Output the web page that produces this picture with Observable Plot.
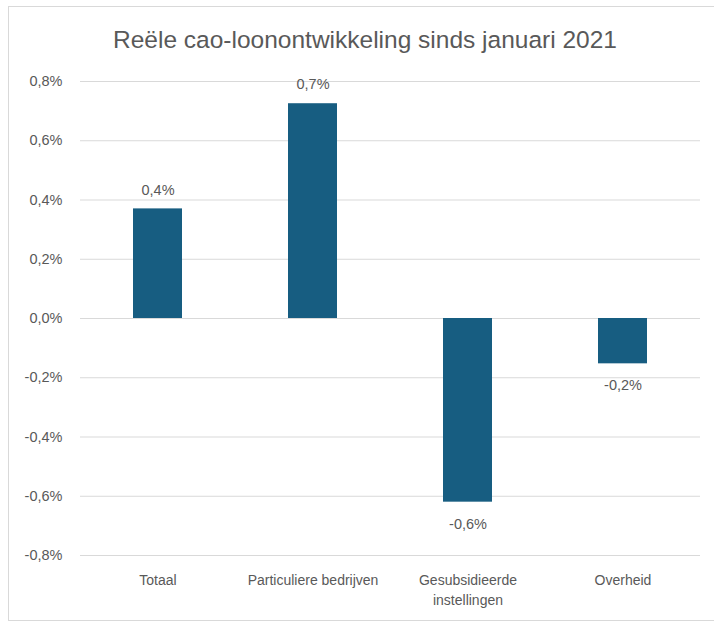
<!DOCTYPE html>
<html>
<head>
<meta charset="utf-8">
<script src="https://cdn.jsdelivr.net/npm/d3@7"></script>
<script src="https://cdn.jsdelivr.net/npm/@observablehq/plot@0.6"></script>
<style>
  html, body { margin: 0; padding: 0; background: #fff; }
  body { width: 714px; height: 622px; position: relative; overflow: hidden; font-family: "Liberation Sans", Arial, sans-serif; }
  #frame { position: absolute; left: 8px; top: 6px; width: 706px; height: 615px; border: 1px solid #d9d9d9; border-right: none; box-sizing: border-box; }
  #title { position: absolute; left: 0; width: 730px; top: 26px; text-align: center; font-size: 24.5px; color: #595959; white-space: nowrap; }
  #chart { position: absolute; left: 0; top: 60px; }
</style>
</head>
<body>
<div id="frame"></div>
<div id="title">Reële cao-loonontwikkeling sinds januari 2021</div>
<div id="chart"></div>
<script>
const categories = ["Totaal", "Particuliere bedrijven", "Gesubsidieerde instellingen", "Overheid"];
const categoryLabels = ["Totaal", "Particuliere bedrijven", "Gesubsidieerde\ninstellingen", "Overheid"];
const values = [0.37, 0.725, -0.62, -0.153];
const yTicks = [-0.8, -0.6, -0.4, -0.2, 0, 0.2, 0.4, 0.6, 0.8];

const data = categories.map((c, i) => ({category: c, value: values[i]}));
const fmt = v => v.toFixed(1).replace(".", ",") + "%";
const labelOf = Object.fromEntries(categories.map((c, i) => [c, categoryLabels[i]]));

const plot = Plot.plot({
  width: 714,
  height: 562,
  marginTop: 21,
  marginBottom: 67,
  marginLeft: 80,
  marginRight: 14,
  style: {fontFamily: "'Liberation Sans', Arial, sans-serif", background: "transparent"},
  x: {domain: categories, padding: 0},
  y: {domain: [-0.8, 0.8]},
  marks: [
    Plot.ruleY(yTicks, {stroke: "#d9d9d9", strokeWidth: 1.2}),
    Plot.barY(data, {x: "category", y: "value", fill: "#175d81", insetLeft: 53, insetRight: 53}),
    Plot.text(data.filter(d => d.value >= 0), {
      x: "category", y: "value", text: d => fmt(d.value),
      dy: -19, fill: "#595959", fontSize: 14.5
    }),
    Plot.text(data.filter(d => d.value < 0), {
      x: "category", y: "value", text: d => fmt(d.value),
      dy: 22, fill: "#595959", fontSize: 14.5
    }),
    Plot.axisY({ticks: yTicks, tickSize: 0, tickPadding: 18, tickFormat: d => d.toFixed(1).replace(".", ",") + "%", fontSize: 14.5, fill: "#595959", label: null}),
    Plot.axisX({tickSize: 0, tickPadding: 15, tickFormat: d => labelOf[d], fontSize: 14, fill: "#595959", label: null, lineHeight: 1.45})
  ]
});
document.getElementById("chart").appendChild(plot);
</script>
</body>
</html>
